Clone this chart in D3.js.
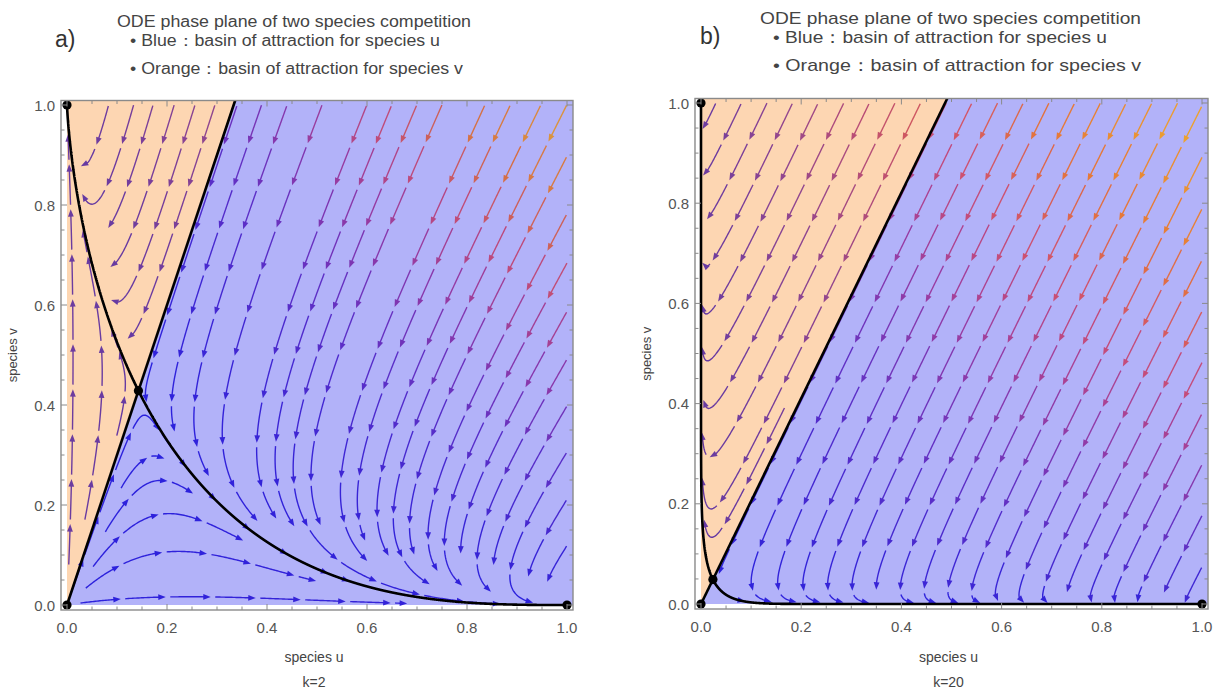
<!DOCTYPE html>
<html>
<head>
<meta charset="utf-8">
<script src="https://cdn.jsdelivr.net/npm/d3@7"></script>
<style>
  body { margin: 0; background: #fff; }
  text { font-family: "Liberation Sans", Arial, sans-serif; }
</style>
</head>
<body>
<svg id="chart" width="1218" height="691"></svg>
<script>
// ---- data ----
const panelNames = ["a)", "b)"];
const kValues = [2, 20];
// du/dt = u(1 - u - aUV*v),  dv/dt = v(1 - v - aVU*u)
const coefUV = [2, 20];   // effect of v on u  (k)
const coefVU = [4, 40];   // effect of u on v  (2k)
const majorTicks = [0, 0.2, 0.4, 0.6, 0.8, 1.0];
const tickLabels = ["0.0", "0.2", "0.4", "0.6", "0.8", "1.0"];
const minorTicks = d3.range(0, 21).map(i => i / 20);
const titleLines = [
  "ODE phase plane of two species competition",
  "\u2022 Blue\uff1abasin of attraction for species u",
  "\u2022 Orange\uff1abasin of attraction for species v"
];

// ---- layout ----
const layout = [
  { x0: 67, x1: 567, y0: 605, y1: 105, titleX: 117, bulletX: 130, titleY: 27, dy: 0, labelX: 55,
    widths: [354, 310, 333], fs: 16, gamma: 1, blueMix: 0.12 },
  { x0: 701, x1: 1202, y0: 604, y1: 103, titleX: 760, bulletX: 773, titleY: 24, dy: -3, labelX: 700,
    widths: [381, 334, 368], fs: 17, gamma: 0.72, blueMix: 0.05 }
];

const svg = d3.select("#chart");

const colorScale = d3.scaleLinear()
  .domain([0, 0.25, 0.42, 0.58, 0.75, 1])
  .range(["#2c22dc", "#6a34c0", "#a4409c", "#d8546a", "#f07c30", "#f8b424"])
  .interpolate(d3.interpolateRgb)
  .clamp(true);

function streamlines(F, fixedPts) {
  const dsep = 0.046, dtest = 0.5 * dsep, h = 0.003, maxLen = 2.5, minLen = 0.05;
  const grid = new Map();
  const cell = p => Math.floor(p[0] / dsep) * 1000 + Math.floor(p[1] / dsep);
  function addPt(p) {
    const k = cell(p);
    if (!grid.has(k)) grid.set(k, []);
    grid.get(k).push(p);
  }
  function near(p, d) {
    const i = Math.floor(p[0] / dsep), j = Math.floor(p[1] / dsep);
    for (let di = -1; di <= 1; di++) for (let dj = -1; dj <= 1; dj++) {
      const arr = grid.get((i + di) * 1000 + (j + dj));
      if (!arr) continue;
      for (const q of arr) if (Math.hypot(p[0] - q[0], p[1] - q[1]) < d) return true;
    }
    return false;
  }
  function dir(p) {
    const f = F(p[0], p[1]);
    const n = Math.hypot(f[0], f[1]);
    if (n < 1e-9) return null;
    return [f[0] / n, f[1] / n];
  }
  function step(p, s) {
    const d1 = dir(p); if (!d1) return null;
    const m = [p[0] + d1[0] * s / 2, p[1] + d1[1] * s / 2];
    const d2 = dir(m); if (!d2) return null;
    return [p[0] + d2[0] * s, p[1] + d2[1] * s];
  }
  function trace(seed, sign) {
    const pts = [];
    let p = seed, len = 0;
    while (len < maxLen) {
      const q = step(p, sign * h);
      if (!q) break;
      if (q[0] < 0.002 || q[0] > 1 || q[1] < 0.002 || q[1] > 1) break;
      if (near(q, dtest)) break;
      if (fixedPts.some(f => Math.hypot(q[0] - f[0], q[1] - f[1]) < 0.014)) break;
      pts.push(q); p = q; len += h;
    }
    return pts;
  }
  const lines = [];
  const queue = [];
  function tryseed(s) {
    if (s[0] < 0.004 || s[0] > 0.998 || s[1] < 0.004 || s[1] > 0.998) return;
    if (near(s, dsep)) return;
    if (fixedPts.some(f => Math.hypot(s[0] - f[0], s[1] - f[1]) < 0.02)) return;
    const back = trace(s, -1).reverse();
    const fwd = trace(s, 1);
    const line = back.concat([s], fwd);
    if ((line.length - 1) * h < minLen) return;
    line.forEach(addPt);
    lines.push(line);
    queue.push(line);
  }
  tryseed([0.5, 0.5]);
  const candidates = [];
  for (let i = 1; i < 40; i++) for (let j = 1; j < 40; j++) candidates.push([i / 40, j / 40]);
  let ci = 0;
  while (queue.length || ci < candidates.length) {
    if (queue.length) {
      const line = queue.shift();
      for (let i = 0; i < line.length; i += 4) {
        const a = line[Math.max(0, i - 1)], b = line[Math.min(line.length - 1, i + 1)];
        let nx = -(b[1] - a[1]), ny = b[0] - a[0];
        const n = Math.hypot(nx, ny) || 1; nx /= n; ny /= n;
        tryseed([line[i][0] + nx * dsep, line[i][1] + ny * dsep]);
        tryseed([line[i][0] - nx * dsep, line[i][1] - ny * dsep]);
      }
    } else {
      tryseed(candidates[ci++]);
    }
  }
  return lines;
}

function rk4(F, p, dt) {
  const k1 = F(p[0], p[1]);
  const k2 = F(p[0] + dt / 2 * k1[0], p[1] + dt / 2 * k1[1]);
  const k3 = F(p[0] + dt / 2 * k2[0], p[1] + dt / 2 * k2[1]);
  const k4 = F(p[0] + dt * k3[0], p[1] + dt * k3[1]);
  return [p[0] + dt / 6 * (k1[0] + 2 * k2[0] + 2 * k3[0] + k4[0]),
          p[1] + dt / 6 * (k1[1] + 2 * k2[1] + 2 * k3[1] + k4[1])];
}

panelNames.forEach((name, pi) => {
  const L = layout[pi];
  const a = coefUV[pi], b = coefVU[pi];
  const F = (u, v) => [u * (1 - u - a * v), v * (1 - v - b * u)];
  const us = (1 - a) / (1 - a * b), vs = (1 - b) / (1 - a * b);
  const slope = vs / us;
  const fixedPts = [[0, 0], [1, 0], [0, 1], [us, vs]];

  const x = d3.scaleLinear().domain([0, 1]).range([L.x0, L.x1]);
  const y = d3.scaleLinear().domain([0, 1]).range([L.y0, L.y1]);
  const fx0 = x(-0.012), fx1 = x(1.012), fy0 = y(-0.01), fy1 = y(1.009);

  const g = svg.append("g");
  const clipId = "clip" + pi;
  g.append("clipPath").attr("id", clipId)
    .append("rect").attr("x", fx0).attr("y", fy1).attr("width", fx1 - fx0).attr("height", fy0 - fy1);

  // basins
  const top = 1.009, right = 1.012;
  const area = g.append("g").attr("clip-path", `url(#${clipId})`);
  const poly = pts => pts.map(p => [x(p[0]), y(p[1])].join(",")).join(" ");
  area.append("polygon")
    .attr("points", poly([[0, 0], [0, top], [top / slope, top]]))
    .attr("fill", "#fdd6b2");
  area.append("polygon")
    .attr("points", poly([[0, 0], [top / slope, top], [right, top], [right, 0]]))
    .attr("fill", "#b2b2f9");

  // streamlines
  let maxSpeed = 0;
  for (let i = 0; i <= 50; i++) for (let j = 0; j <= 50; j++) {
    const f = F(i / 50, j / 50);
    maxSpeed = Math.max(maxSpeed, Math.hypot(f[0], f[1]));
  }
  const lines = streamlines(F, fixedPts);
  const SEG = 40, GAP = 4, HEAD = 7.5, HALF = 2.9;
  const arrows = area.append("g");
  lines.forEach(line => {
    const px = line.map(p => [x(p[0]), y(p[1]), p[0], p[1]]);
    const pieces = [];
    let cur = [px[0]], acc = 0, inGap = false;
    for (let i = 1; i < px.length; i++) {
      const d = Math.hypot(px[i][0] - px[i - 1][0], px[i][1] - px[i - 1][1]);
      acc += d;
      if (!inGap) {
        cur.push(px[i]);
        if (acc >= SEG) { pieces.push(cur); cur = null; inGap = true; acc = 0; }
      } else if (acc >= GAP) {
        inGap = false; acc = 0; cur = [px[i]];
      }
    }
    if (cur && cur.length > 1) {
      let len = 0;
      for (let i = 1; i < cur.length; i++) len += Math.hypot(cur[i][0] - cur[i - 1][0], cur[i][1] - cur[i - 1][1]);
      if (len >= 12) pieces.push(cur);
    }
    pieces.forEach(pc => {
      const mid = pc[Math.floor(pc.length / 2)];
      const f = F(mid[2], mid[3]);
      let col = colorScale(Math.pow(Math.hypot(f[0], f[1]) / maxSpeed, L.gamma));
      const inOrange = mid[3] > slope * mid[2];
      col = inOrange ? d3.interpolateRgb(col, "#e8701e")(0.3) : d3.interpolateRgb(col, "#1010e8")(L.blueMix);
      const tip = pc[pc.length - 1];
      let back = pc[0], dist = 0, k = pc.length - 1;
      while (k > 0) {
        dist += Math.hypot(pc[k][0] - pc[k - 1][0], pc[k][1] - pc[k - 1][1]);
        k--;
        if (dist >= HEAD) { back = pc[k]; break; }
      }
      let dx = tip[0] - back[0], dy = tip[1] - back[1];
      const n = Math.hypot(dx, dy) || 1; dx /= n; dy /= n;
      const bx = tip[0] - dx * HEAD, by = tip[1] - dy * HEAD;
      const body = pc.slice(0, k + 1).map(p => [p[0], p[1]]);
      body.push([bx + dx * 1.5, by + dy * 1.5]);
      arrows.append("path")
        .attr("d", d3.line()(body))
        .attr("fill", "none")
        .attr("stroke", col)
        .attr("stroke-width", 1.4);
      arrows.append("path")
        .attr("d", `M${tip[0]},${tip[1]}L${bx - dy * HALF},${by + dx * HALF}L${bx + dy * HALF},${by - dx * HALF}Z`)
        .attr("fill", col);
    });
  });

  // separatrix (stable manifold of the saddle)
  area.append("line")
    .attr("x1", x(0)).attr("y1", y(0))
    .attr("x2", x(top / slope)).attr("y2", y(top))
    .attr("stroke", "#000").attr("stroke-width", 2.6);

  // unstable manifold of the saddle
  const J = [[1 - 2 * us - a * vs, -a * us], [-b * vs, 1 - 2 * vs - b * us]];
  const tr = J[0][0] + J[1][1], det = J[0][0] * J[1][1] - J[0][1] * J[1][0];
  const lam = tr / 2 + Math.sqrt(tr * tr / 4 - det);
  let ev = [J[0][1], lam - J[0][0]];
  const en = Math.hypot(ev[0], ev[1]); ev = [ev[0] / en, ev[1] / en];
  [1, -1].forEach(sgn => {
    let p = [us + sgn * ev[0] * 1e-4, vs + sgn * ev[1] * 1e-4];
    const pts = [[us, vs], p];
    for (let i = 0; i < 40000; i++) {
      p = rk4(F, p, 0.001);
      pts.push(p);
      if (Math.hypot(p[0] - 1, p[1]) < 0.001 || Math.hypot(p[0], p[1] - 1) < 0.001) break;
    }
    area.append("path")
      .attr("d", d3.line().x(d => x(d[0])).y(d => y(d[1]))(pts))
      .attr("fill", "none")
      .attr("stroke", "#000").attr("stroke-width", 2.6);
  });

  // fixed points
  g.selectAll(".fp").data(fixedPts).enter().append("circle")
    .attr("cx", d => x(d[0])).attr("cy", d => y(d[1]))
    .attr("r", 4.6).attr("fill", "#000");

  // frame and ticks
  g.append("rect")
    .attr("x", fx0).attr("y", fy1).attr("width", fx1 - fx0).attr("height", fy0 - fy1)
    .attr("fill", "none").attr("stroke", "#8a8a8a").attr("stroke-width", 1.4);
  const tk = g.append("g").attr("stroke", "#8a8a8a").attr("stroke-width", 1);
  minorTicks.forEach(t => {
    const major = majorTicks.some(m => Math.abs(m - t) < 1e-9);
    const len = major ? 6 : 3.5;
    tk.append("line").attr("x1", x(t)).attr("x2", x(t)).attr("y1", fy0).attr("y2", fy0 - len);
    tk.append("line").attr("x1", x(t)).attr("x2", x(t)).attr("y1", fy1).attr("y2", fy1 + len);
    tk.append("line").attr("y1", y(t)).attr("y2", y(t)).attr("x1", fx0).attr("x2", fx0 + len);
    tk.append("line").attr("y1", y(t)).attr("y2", y(t)).attr("x1", fx1).attr("x2", fx1 - len);
  });
  g.selectAll(".xl").data(majorTicks).enter().append("text")
    .attr("x", d => x(d)).attr("y", fy0 + 23)
    .attr("text-anchor", "middle").attr("font-size", 15).attr("fill", "#555")
    .text((d, i) => tickLabels[i]);
  g.selectAll(".yl").data(majorTicks).enter().append("text")
    .attr("x", fx0 - 6).attr("y", d => y(d) + 5.5)
    .attr("text-anchor", "end").attr("font-size", 15).attr("fill", "#555")
    .text((d, i) => tickLabels[i]);

  // axis titles
  const cx = (fx0 + fx1) / 2 - 3;
  g.append("text").attr("x", cx).attr("y", 662)
    .attr("text-anchor", "middle").attr("font-size", 14).attr("fill", "#444")
    .text("species u");
  g.append("text").attr("x", cx).attr("y", 687)
    .attr("text-anchor", "middle").attr("font-size", 14).attr("fill", "#444")
    .text("k=" + kValues[pi]);
  g.append("text")
    .attr("transform", `translate(${fx0 - 44},${(fy0 + fy1) / 2}) rotate(-90)`)
    .attr("text-anchor", "middle").attr("font-size", 13).attr("fill", "#444")
    .text("species v");

  // header
  g.append("text").attr("x", L.labelX).attr("y", 47 + L.dy)
    .attr("font-size", 23).attr("fill", "#333").text(name);
  const heads = [[L.titleX, L.titleY], [L.bulletX, 46 + L.dy], [L.bulletX, 74 + L.dy]];
  heads.forEach((hp, i) => {
    g.append("text").attr("x", hp[0]).attr("y", hp[1])
      .attr("font-size", L.fs).attr("fill", "#444")
      .attr("textLength", L.widths[i]).attr("lengthAdjust", "spacingAndGlyphs")
      .text(titleLines[i]);
  });
});
</script>
</body>
</html>
